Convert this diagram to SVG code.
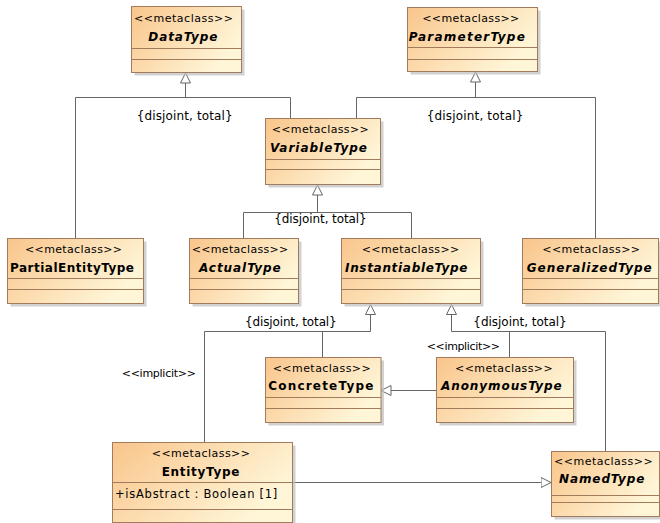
<svg xmlns="http://www.w3.org/2000/svg" width="660" height="523" viewBox="0 0 660 523">
<defs>
<linearGradient id="fillg" x1="0" y1="0" x2="1" y2="0.5">
<stop offset="0" stop-color="#F9C58B"/>
<stop offset="1" stop-color="#FFF6D8"/>
</linearGradient>
<marker id="gen" viewBox="0 0 11 11" refX="10.5" refY="5.5" markerWidth="11" markerHeight="11" markerUnits="userSpaceOnUse" orient="auto">
<path d="M0.5,0.5 L10.5,5.5 L0.5,10.5 Z" fill="#FFFFFF" stroke="#666666" stroke-width="1"/>
</marker>
</defs>
<style>
.box{fill:url(#fillg);stroke:#A27A5C;stroke-width:1}
.sh{fill:#BDBDBD;opacity:0.7}
.sep{stroke:#A27A5C;stroke-width:1}
text{font-family:"DejaVu Sans","Liberation Sans",sans-serif;fill:#000}
.st{font-size:11px}
.nm{font-size:12px;font-weight:bold}
.ab{font-style:italic}
.at{font-size:11.5px}
.lb{font-size:12px}
.c{fill:none;stroke:#666666;stroke-width:1}
.g{marker-end:url(#gen)}
</style>
<rect width="660" height="523" fill="#FFFFFF"/>
<g id="connectors">
<path class="c g" d="M185.5,97.5 V73"/>
<path class="c" d="M75.5,238 V97.5 H290.5 V118"/>
<path class="c g" d="M475.5,97.5 V72"/>
<path class="c" d="M356.5,118 V97.5 H595.5 V238"/>
<path class="c g" d="M317.5,212.5 V185"/>
<path class="c" d="M243.5,238 V212.5 H411.5 V238"/>
<path class="c g" d="M370.5,331.5 V304.5"/>
<path class="c" d="M204.5,442 V331.5 H370.5"/>
<path class="c" d="M322.5,331.5 V357"/>
<path class="c g" d="M451.5,331.5 V304.5"/>
<path class="c" d="M451.5,331.5 H605.5 V451"/>
<path class="c" d="M509.5,331.5 V357"/>
<path class="c g" d="M436,390.5 H381"/>
<path class="c g" d="M292.5,482.5 H551"/>
<text class="lb" x="136.7" y="120" textLength="96">{disjoint, total}</text>
<text class="lb" x="426.7" y="120" textLength="96.6">{disjoint, total}</text>
<text class="lb" x="274.3" y="223" textLength="92.4">{disjoint, total}</text>
<text class="lb" x="245" y="326" textLength="91.7">{disjoint, total}</text>
<text class="lb" x="473.3" y="326" textLength="93.4">{disjoint, total}</text>
<text class="st" x="426.7" y="350" textLength="73.3">&lt;&lt;implicit&gt;&gt;</text>
<text class="st" x="121.7" y="377" textLength="74.3">&lt;&lt;implicit&gt;&gt;</text>
</g>
<g id="DataType">
<rect class="sh" x="134.5" y="9.5" width="110" height="66"/>
<rect class="box" x="131.5" y="6.5" width="110" height="66"/>
<line class="sep" x1="131.5" y1="48.5" x2="241.5" y2="48.5"/>
<line class="sep" x1="131.5" y1="59.5" x2="241.5" y2="59.5"/>
<text class="st" x="134" y="22" textLength="99">&lt;&lt;metaclass&gt;&gt;</text>
<text class="nm ab" x="148.3" y="40.7" textLength="69">DataType</text>
</g>
<g id="ParameterType">
<rect class="sh" x="410.5" y="10.5" width="130" height="64"/>
<rect class="box" x="407.5" y="7.5" width="130" height="64"/>
<line class="sep" x1="407.5" y1="47.5" x2="537.5" y2="47.5"/>
<line class="sep" x1="407.5" y1="59.5" x2="537.5" y2="59.5"/>
<text class="st" x="422.3" y="22" textLength="97">&lt;&lt;metaclass&gt;&gt;</text>
<text class="nm ab" x="408.8" y="40.7" textLength="116">ParameterType</text>
</g>
<g id="VariableType">
<rect class="sh" x="268.5" y="121.5" width="115" height="66"/>
<rect class="box" x="265.5" y="118.5" width="115" height="66"/>
<line class="sep" x1="265.5" y1="159.5" x2="380.5" y2="159.5"/>
<line class="sep" x1="265.5" y1="169.5" x2="380.5" y2="169.5"/>
<text class="st" x="271.7" y="133.3" textLength="97">&lt;&lt;metaclass&gt;&gt;</text>
<text class="nm ab" x="270" y="151.7" textLength="97">VariableType</text>
</g>
<g id="PartialEntityType">
<rect class="sh" x="10.5" y="241.5" width="136" height="65"/>
<rect class="box" x="7.5" y="238.5" width="136" height="65"/>
<line class="sep" x1="7.5" y1="278.5" x2="143.5" y2="278.5"/>
<line class="sep" x1="7.5" y1="289.5" x2="143.5" y2="289.5"/>
<text class="st" x="25" y="252.5" textLength="97">&lt;&lt;metaclass&gt;&gt;</text>
<text class="nm" x="10" y="271.7" textLength="124">PartialEntityType</text>
</g>
<g id="ActualType">
<rect class="sh" x="192.5" y="241.5" width="109" height="65"/>
<rect class="box" x="189.5" y="238.5" width="109" height="65"/>
<line class="sep" x1="189.5" y1="278.5" x2="298.5" y2="278.5"/>
<line class="sep" x1="189.5" y1="289.5" x2="298.5" y2="289.5"/>
<text class="st" x="191.7" y="252.5" textLength="96.6">&lt;&lt;metaclass&gt;&gt;</text>
<text class="nm ab" x="199" y="271.7" textLength="81.7">ActualType</text>
</g>
<g id="InstantiableType">
<rect class="sh" x="344.5" y="241.5" width="139" height="65"/>
<rect class="box" x="341.5" y="238.5" width="139" height="65"/>
<line class="sep" x1="341.5" y1="278.5" x2="480.5" y2="278.5"/>
<line class="sep" x1="341.5" y1="289.5" x2="480.5" y2="289.5"/>
<text class="st" x="361.7" y="252.5" textLength="97.6">&lt;&lt;metaclass&gt;&gt;</text>
<text class="nm ab" x="345" y="271.7" textLength="122.3">InstantiableType</text>
</g>
<g id="GeneralizedType">
<rect class="sh" x="525.5" y="241.5" width="136" height="65"/>
<rect class="box" x="522.5" y="238.5" width="136" height="65"/>
<line class="sep" x1="522.5" y1="278.5" x2="658.5" y2="278.5"/>
<line class="sep" x1="522.5" y1="289.5" x2="658.5" y2="289.5"/>
<text class="st" x="542.3" y="252.5" textLength="97.7">&lt;&lt;metaclass&gt;&gt;</text>
<text class="nm ab" x="526.7" y="271.7" textLength="125">GeneralizedType</text>
</g>
<g id="ConcreteType">
<rect class="sh" x="268.5" y="360.5" width="115.5" height="65"/>
<rect class="box" x="265.5" y="357.5" width="115.5" height="65"/>
<line class="sep" x1="265.5" y1="397.5" x2="381" y2="397.5"/>
<line class="sep" x1="265.5" y1="408.5" x2="381" y2="408.5"/>
<text class="st" x="272.7" y="371.7" textLength="98">&lt;&lt;metaclass&gt;&gt;</text>
<text class="nm" x="268.3" y="390" textLength="105">ConcreteType</text>
</g>
<g id="AnonymousType">
<rect class="sh" x="439.5" y="360.5" width="137" height="65"/>
<rect class="box" x="436.5" y="357.5" width="137" height="65"/>
<line class="sep" x1="436.5" y1="397.5" x2="573.5" y2="397.5"/>
<line class="sep" x1="436.5" y1="408.5" x2="573.5" y2="408.5"/>
<text class="st" x="455" y="371.7" textLength="97.7">&lt;&lt;metaclass&gt;&gt;</text>
<text class="nm ab" x="441" y="390" textLength="120.7">AnonymousType</text>
</g>
<g id="EntityType">
<rect class="sh" x="115.5" y="445.5" width="180" height="80"/>
<rect class="box" x="112.5" y="442.5" width="180" height="80"/>
<line class="sep" x1="112.5" y1="482.5" x2="292.5" y2="482.5"/>
<line class="sep" x1="112.5" y1="509.5" x2="292.5" y2="509.5"/>
<text class="st" x="151.7" y="456.7" textLength="98.3">&lt;&lt;metaclass&gt;&gt;</text>
<text class="nm" x="161.7" y="476" textLength="77.6">EntityType</text>
<text class="at" x="115" y="498" textLength="162.3">+isAbstract : Boolean [1]</text>
</g>
<g id="NamedType">
<rect class="sh" x="554.5" y="454.5" width="108" height="65"/>
<rect class="box" x="551.5" y="451.5" width="108" height="65"/>
<line class="sep" x1="551.5" y1="495.5" x2="659.5" y2="495.5"/>
<line class="sep" x1="551.5" y1="502.5" x2="659.5" y2="502.5"/>
<text class="st" x="554" y="465" textLength="98.7">&lt;&lt;metaclass&gt;&gt;</text>
<text class="nm ab" x="559" y="483" textLength="85.3">NamedType</text>
</g>
</svg>
